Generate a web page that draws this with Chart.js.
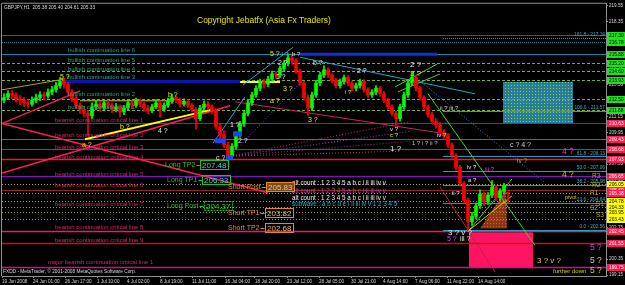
<!DOCTYPE html>
<html><head><meta charset="utf-8">
<script src="https://cdn.jsdelivr.net/npm/chart.js@4.4.1/dist/chart.umd.min.js"></script>
<style>html,body{margin:0;padding:0;background:#000;}canvas{display:block;}</style>
</head><body>
<canvas id="c" width="625" height="285"></canvas>
<script>
// ---------------- DATA ----------------
const symbolInfo = 'GBPJPY,H1  205.38 205.40 204.61 205.33';
const titleText = 'Copyright Jebatfx (Asia Fx Traders)';
const footerText = 'FXDD - MetaTrader, \u00a9 2001-2008 MetaQuotes Software Corp.';

const dateLabels = ['19 Jun 2008','24 Jun 01:00','26 Jun 17:00','1 Jul 10:00','4 Jul 02:00','8 Jul 19:00','11 Jul 11:00','16 Jul 04:00','18 Jul 20:00','23 Jul 12:00','28 Jul 05:00','30 Jul 21:00','4 Aug 14:00','7 Aug 06:00','11 Aug 22:00','14 Aug 14:00'];
const dateTickIdx = [-0.5,7.25,15.25,23.25,30.75,39,47,55.25,62.75,70.75,78.75,86.75,94.75,102.75,110.75,118.5];
const yTickValues = [219.55,218.35,217.15,215.95,214.75,213.55,212.35,211.15,209.95,208.75,207.55,206.35,205.15,203.95,202.75,201.55,200.35,199.15];

const opens = [212.40,212.60,212.90,212.80,212.50,212.40,212.20,212.10,212.40,212.60,212.80,212.70,213.00,213.20,213.50,213.80,213.60,213.00,212.50,212.00,211.70,211.40,211.20,211.90,212.10,211.80,212.20,212.00,211.70,211.90,211.50,211.80,212.20,212.00,212.30,212.10,211.80,211.60,211.90,212.20,211.70,212.00,212.30,212.60,212.40,212.10,212.30,212.00,211.70,211.00,211.80,212.10,211.90,211.60,210.40,209.80,209.00,208.20,208.90,209.80,210.60,211.40,212.20,212.80,213.30,213.80,213.60,214.00,214.40,214.30,214.80,215.20,215.60,215.40,214.60,213.70,212.60,211.80,212.80,213.70,214.30,214.70,214.30,213.90,213.50,213.80,214.10,213.70,213.30,213.50,213.80,213.20,212.80,213.00,213.30,212.90,212.40,211.90,211.40,211.00,211.90,212.80,213.70,214.10,213.30,212.60,211.90,211.30,210.80,210.50,210.00,209.70,209.00,208.20,207.30,206.10,204.80,203.20,203.60,204.40,205.30,204.70,205.20,205.80,205.00,205.50,205.38];
const highs = [212.90,213.10,213.15,212.95,212.75,212.60,212.45,212.65,212.85,213.05,213.00,213.25,213.45,213.75,214.10,214.05,213.75,213.20,212.70,212.20,211.95,211.60,212.20,212.40,212.30,212.45,212.40,212.20,212.15,212.05,212.00,212.45,212.35,212.55,212.50,212.25,212.00,212.10,212.45,212.35,212.20,212.55,212.85,212.75,212.55,212.50,212.45,212.15,211.85,212.00,212.35,212.30,212.05,211.75,210.60,210.10,209.20,209.10,210.00,210.80,211.60,212.40,213.00,213.50,214.00,214.00,214.20,214.60,214.55,215.00,215.40,215.90,215.80,215.55,214.75,213.85,212.80,213.00,213.90,214.50,215.00,214.85,214.45,214.05,214.00,214.30,214.25,213.85,213.70,214.00,213.95,213.35,213.20,213.50,213.45,213.05,212.55,212.05,211.55,212.10,213.00,213.90,214.50,214.25,213.45,212.75,212.05,211.50,211.00,210.70,210.20,209.85,209.15,208.35,207.45,206.25,205.00,203.90,204.60,205.60,205.45,205.40,206.30,205.95,205.70,206.10,205.40];
const lows = [212.20,212.45,212.50,212.25,212.05,211.90,211.80,211.95,212.20,212.35,212.40,212.55,212.80,213.00,213.30,213.30,212.80,212.30,211.80,211.40,211.10,209.70,211.00,211.70,211.55,211.60,211.75,211.45,211.50,211.10,211.30,211.65,211.75,211.85,211.90,211.55,211.35,211.45,211.75,211.10,211.55,211.85,212.15,212.20,211.90,211.95,211.80,211.50,210.20,210.85,211.65,211.70,211.35,210.20,209.30,208.80,207.80,208.00,208.70,209.60,210.40,211.20,212.00,212.60,213.10,213.30,213.40,213.80,214.00,214.10,214.60,215.00,215.10,214.40,213.50,212.40,211.20,211.60,212.60,213.50,214.10,214.10,213.70,213.30,213.30,213.60,213.50,213.10,213.10,213.30,213.00,212.60,212.60,212.80,212.70,212.20,211.70,211.20,210.50,210.80,211.70,212.60,213.50,213.10,212.40,211.70,211.10,210.60,210.30,209.80,209.50,208.80,208.00,207.10,205.90,204.60,202.50,202.90,203.40,204.20,204.40,204.50,205.00,204.80,204.80,205.30,204.61];
const closes = [212.60,212.90,212.80,212.50,212.40,212.20,212.10,212.40,212.60,212.80,212.70,213.00,213.20,213.50,213.80,213.60,213.00,212.50,212.00,211.70,211.40,211.20,211.90,212.10,211.80,212.20,212.00,211.70,211.90,211.50,211.80,212.20,212.00,212.30,212.10,211.80,211.60,211.90,212.20,211.70,212.00,212.30,212.60,212.40,212.10,212.30,212.00,211.70,211.00,211.80,212.10,211.90,211.60,210.40,209.80,209.00,208.20,208.90,209.80,210.60,211.40,212.20,212.80,213.30,213.80,213.60,214.00,214.40,214.30,214.80,215.20,215.60,215.40,214.60,213.70,212.60,211.80,212.80,213.70,214.30,214.70,214.30,213.90,213.50,213.80,214.10,213.70,213.30,213.50,213.80,213.20,212.80,213.00,213.30,212.90,212.40,211.90,211.40,211.00,211.90,212.80,213.70,214.10,213.30,212.60,211.90,211.30,210.80,210.50,210.00,209.70,209.00,208.20,207.30,206.10,204.80,203.20,203.60,204.40,205.30,204.70,205.20,205.80,205.00,205.50,205.90,205.33];

// horizontal levels (prices) and their names
const levelPrices = [217.30,216.78,215.88,215.20,214.60,213.93,212.50,211.68,210.63,209.43,208.68,207.93,206.65,206.05,205.60,205.38,204.78,204.33,203.95,203.43,202.45,201.55,199.75];
const levelNames = ['bullish continuation line 6','bullish continuation line 5','bullish continuation line 4','bullish continuation line 3','bullish continuation line 2','bullish continuation line 1','bearish continuation critical line 1','bearish continuation critical line 2','bearish continuation critical line 3','bearish continuation critical line 4','bearish continuation critical line 5','bearish continuation critical line 6','bearish continuation critical line 7','bearish continuation critical line 8','bearish continuation critical line 9','major bearish continuation critical line 1'];
const levelNamePrices = [216.175,215.425,214.75,214.15,212.80,211.825,210.85,209.725,208.825,208.075,206.80,205.975,204.475,202.75,201.775,200.125];
const levelNameIdx = [16,16,16,16,16,16,12.75,12.75,12.75,12.75,12.75,12.75,12.75,12.75,12.75,11];

// fibonacci levels
const fibTexts = ['161.8 - 217.14','100.0 - 211.57','61.8 - 208.13','50.0 - 207.06','38.2 - 205.98','23.6 - 204.64','0.0 - 202.56'];
const fibPrices = [217.14,211.57,208.13,207.06,205.98,204.64,202.56];
const fibStartIdx = 109.75;

// trade levels
const tradeNames = ['Long TP2','Long TP1','Long Post','Short Post','Short TP1','Short TP2'];
const tradeValues = [207.48,206.33,204.37,205.83,203.82,202.68];
const tradeIdx = [40.25,40.75,40.75,56,56,56];

// trend lines [startIdx, startPrice, endIdx, endPrice]
const trendLines = [
  [-0.5,210.63,66,205.38],[-0.5,206.88,56.5,211.98],[-0.5,210.63,19,213.10],
  [20.25,209.43,52,211.68],[-0.5,213.18,15.25,214.00],[19,212.35,41.5,212.35],
  [59,213.78,69,213.78],[52.25,209.13,60.25,212.65],[59.75,213.55,72.25,216.40],
  [74,215.65,117.75,212.88],[102.75,214.15,135.25,206.13],[106,212.88,132.75,201.40],
  [97.75,213.40,108.25,215.13],[98.5,213.03,109,214.38],[57.75,212.28,111.5,209.80],
  [109,205.83,122.75,199.38],[116.25,202.53,127,206.43],[116.25,202.53,127,205.15],
  [56.5,208.15,101.5,210.78],[56.5,208.15,101.5,210.03],[56.5,208.15,79,215.28],
  [56.5,208.15,99,208.53],[56.5,208.15,101.5,209.28]
];
// thick segments [startIdx, endIdx, price]
const thickSegs = [[74,108.25,215.88],[15.25,59,213.81]];
// zones [idx1, price1, idx2, price2]
const sellZone = [116.25,202.38,132.25,199.75];
const fibZone = [124.75,213.78,142.25,210.63];
const triZone = [[119,202.68],[125.5,205.60],[125.75,202.68]];
const smallBoxes = [[52.75,209.50,55.25,209.13],[57.25,210.03,59.5,209.65],[55.5,208.23,57.25,207.93]];

// wave labels [text, idx, price]
const waveLabels = [
  ['5 ?',14,214.15],['b ?',41,212.80],['a ?',19.5,208.975],['b ?',29,210.325],['4 ?',38.5,210.025],
  ['c ?',53,207.975],['1 ?',56.5,210.475],['2 ?',58.5,209.275],['5 ?',66.5,215.875],['4 ?',69,215.875],
  ['b ?',72,215.875],['2 ?',68.5,215.20],['b ?',77.25,215.20],['1 ?',68,214.15],['3 ?',69.75,213.25],
  ['a ?',66.5,212.35],['2 ?',88.25,214.60],['2 ?',101.5,215.05],['3 ?',101.5,214.375],['i ?',85.25,213.025],
  ['3 ?',76,210.925],['v ?',96.5,210.175],['c ?',96.5,209.725],['1 ?',96.5,208.675],['1 ? i ? ii ?',102,209.125],
  ['iv ?',108.25,209.725],['ii ? iii ?',109,211.75],['c ? 4 ?',126.5,208.975],['4 ?',139.5,208.525],
  ['iv ?',128.25,207.775],['4 ?',139.5,206.725],['R3',147,206.65],['R2',147,205.975],['R1',146.5,205.375],
  ['pivot',140.25,205.00],['S1',148,204.55],['S2',146.5,204.175],['S3',148,203.65],['ii ?',112,205.30],
  ['iv ?',115.75,207.325],['iii ?',120.25,207.175],['a ?',116,206.35],['3 ? v ?',111,202.375],
  ['5 ?',110.75,201.85],['iii ?',114,201.85],['5 ?',146.5,201.25],['3 ? v ?',133.25,200.20],
  ['5 ?',146.5,200.20],['further down',137.25,199.45],['5 ?',146.5,199.45]
];
const countRows = ['alt count : 1 2 3 4 5 a b c i ii iii iv v','alt count : 1 2 3 4 5 a b c i ii iii iv v','alt count : 1 2 3 4 5 a b c i ii iii iv v','subwave : a b c d e i ii iii iv v 1 2 3 4 5'];
const countRowPrices = [206.125,205.525,205.00,204.475];
const countRowIdx = 72;
const titlePos = [48.25,218.425];

// ---------------- STYLES ----------------
const FONT = '"Liberation Sans", Arial, sans-serif';
const W='#e6e6e6', YL='#e8e800', MG='#e040e0', OL='#b0a030';
const levelLook = [
  {c:'#1a6a7a',d:[],w:1,b:'#20e020'},{c:'#2a8a9a',d:[1,1],w:1,b:'#20e020'},{c:'#1a8aa8',d:[],w:1,b:'#20e020'},
  {c:'#78b028',d:[3,2],w:1,b:'#20e020'},{c:'#78b028',d:[3,2],w:1,b:'#20e020'},{c:'#78b028',d:[3,2],w:1,b:'#20e020'},
  {c:'#78b028',d:[3,2],w:1,b:'#20e020'},{c:'#78b028',d:[3,2],w:1,b:'#20e020'},
  {c:'#8a2090',d:[],w:1,b:'#ff1a50'},{c:'#b04a20',d:[],w:1,b:'#ff1a50'},{c:'#a83c10',d:[],w:1,b:'#ff1a50'},
  {c:'#ff1030',d:[],w:1.3,b:'#ff1a50'},{c:'#8010c0',d:[],w:1,b:'#ff1a50'},{c:'#a0a030',d:[1,2],w:1,b:'#ffff00'},
  {c:'#902818',d:[],w:1,b:'#ff1a50'},{c:'#a0a030',d:[1,2],w:1,b:'#ff1a50'},{c:'#a0a030',d:[1,2],w:1,b:'#ffff00'},
  {c:'#a0a030',d:[1,2],w:1,b:'#ffff00'},{c:'#a0a030',d:[1,2],w:1,b:'#ffff00'},{c:'#a0a030',d:[1,2],w:1,b:'#ffff00'},
  {c:'#ff1070',d:[],w:1.5,b:'#ff1a50'},{c:'#d01010',d:[],w:1.5,b:'#ff1a50'},{c:'#d0108a',d:[],w:1.5,b:'#ff1a50'}
];
const trendLook = [
  {c:'#ff2050',w:1.5},{c:'#ff2050',w:1.5},{c:'#ff2050',w:1.2},{c:'#ffff00',w:2},{c:'#b0a020',w:1},{c:'#c8c820',w:1},
  {c:'#ffff00',w:2},{c:'#20a8c8',w:1},{c:'#20a8c8',w:1},{c:'#20a8c8',w:1},{c:'#3a80d0',w:1,d:[1,2]},{c:'#40d040',w:1},
  {c:'#40d040',w:1},{c:'#60c030',w:1},{c:'#c02860',w:1},{c:'#c02040',w:1},{c:'#40d040',w:1},{c:'#c8c820',w:1},
  {c:'#d03060',w:1,d:[1,2]},{c:'#a040b0',w:1,d:[1,2]},{c:'#9040c0',w:1,d:[1,2]},{c:'#a05020',w:1,d:[1,2]},{c:'#903080',w:1,d:[1,2]}
];
const waveLook = [
  [YL,7],[YL,7],[YL,7],[YL,7],[W,7],[W,7],[W,7],[W,7],[YL,7],['#30b0c0',6],[W,6],[W,7],[W,7],[W,7],[YL,7],
  [YL,7],[W,7],[W,8],[YL,8],[YL,6],[YL,7],[W,6],[YL,6],[W,8],['#d8b0d8',6],[W,6],['#e0c0e0',6],['#d0d0d0',7],
  [MG,8.5],['#c09040',6.5],['#e0c000',8.5],[OL,6.5],[OL,6.5],[OL,6.5],['#d0c020',5.5],[OL,6.5],[OL,6.5],[OL,6.5],
  [W,6],[W,6],[MG,6],[W,6],[W,8],[MG,7],[W,7],['#d040d0',8.5],['#d0d020',8],['#c8c8c8',8.5],['#d0d020',6],['#d0d020',8.5]
];
const countLook = ['#f0f0f0','#c040c0','#f0f0f0','#20b0d0'];
const tradeLook = [
  {n:'#20c020',b:'#20c020',t:'#30d8d8'},{n:'#20c020',b:'#20c020',t:'#30d8d8'},{n:'#20c020',b:'#20c020',t:'#20d020',d:[2,1]},
  {n:'#e08a20',b:'#e08a20',t:'#f0c080',f:'#7a4a1a'},{n:'#e08a20',b:'#e08a20',t:'#f0b060'},{n:'#e08a20',b:'#e08a20',t:'#f0b060'}
];

function dotPattern(ctx, bg, dot){
  const p = document.createElement('canvas'); p.width = 3; p.height = 3;
  const g = p.getContext('2d'); g.fillStyle = bg; g.fillRect(0,0,3,3);
  g.fillStyle = dot; g.fillRect(1,1,1,1);
  return ctx.createPattern(p,'repeat');
}

const overlay = {
  id:'overlay',
  beforeDatasetsDraw(chart){
    const {ctx, chartArea:a, scales:{x, y}} = chart;
    const X = v => x.getPixelForValue(v), Y = v => y.getPixelForValue(v);
    ctx.save();
    ctx.beginPath(); ctx.rect(a.left, a.top, a.right-a.left, a.bottom-a.top); ctx.clip();
    ctx.fillStyle = dotPattern(ctx,'#2a7d96','#7ad060');
    ctx.fillRect(X(fibZone[0]), Y(fibZone[1]), X(fibZone[2])-X(fibZone[0]), Y(fibZone[3])-Y(fibZone[1]));
    ctx.fillStyle = '#ff1464';
    ctx.fillRect(X(sellZone[0]), Y(sellZone[1]), X(sellZone[2])-X(sellZone[0]), Y(sellZone[3])-Y(sellZone[1]));
    ctx.fillStyle = dotPattern(ctx,'#8c3414','#c86030');
    ctx.beginPath(); triZone.forEach((p,i)=>{ i?ctx.lineTo(X(p[0]),Y(p[1])):ctx.moveTo(X(p[0]),Y(p[1])); }); ctx.closePath(); ctx.fill();
    levelPrices.forEach((p,i)=>{
      const L = levelLook[i], yy = Math.round(Y(p))+0.5;
      ctx.strokeStyle = L.c; ctx.lineWidth = L.w; ctx.setLineDash(L.d);
      ctx.beginPath(); ctx.moveTo(a.left, yy); ctx.lineTo(a.right, yy); ctx.stroke();
    });
    ctx.strokeStyle = '#2a9ab8'; ctx.lineWidth = 1;
    fibPrices.forEach((p,i)=>{
      ctx.setLineDash(i===0?[1,1]:[]);
      const yy = Math.round(Y(p))+0.5;
      ctx.beginPath(); ctx.moveTo(X(fibStartIdx), yy); ctx.lineTo(a.right, yy); ctx.stroke();
    });
    ctx.setLineDash([]);
    thickSegs.forEach((s,i)=>{
      ctx.strokeStyle = i===0?'#1030e0':'#0a14b0'; ctx.lineWidth = 3;
      ctx.beginPath(); ctx.moveTo(X(s[0]),Y(s[2])); ctx.lineTo(X(s[1]),Y(s[2])); ctx.stroke();
    });
    trendLines.forEach((t,i)=>{
      const L = trendLook[i];
      ctx.strokeStyle = L.c; ctx.lineWidth = L.w; ctx.setLineDash(L.d||[]);
      ctx.beginPath(); ctx.moveTo(X(t[0]),Y(t[1])); ctx.lineTo(X(t[2]),Y(t[3])); ctx.stroke();
    });
    ctx.setLineDash([]);
    ctx.restore();
  },
  afterDraw(chart){
    const {ctx, chartArea:a, scales:{x, y}} = chart;
    const X = v => x.getPixelForValue(v), Y = v => y.getPixelForValue(v);
    ctx.save();
    ctx.fillStyle = '#2040ff';
    smallBoxes.forEach(b=>ctx.fillRect(X(b[0]),Y(b[1]),X(b[2])-X(b[0]),Y(b[3])-Y(b[1])));
    ctx.textAlign = 'left'; ctx.textBaseline = 'middle';
    levelNames.forEach((n,i)=>{
      ctx.font = '6px '+FONT;
      ctx.fillStyle = i<6 ? (i===0?'#2a98a8':'#34a070') : '#d0286e';
      ctx.fillText(n, X(levelNameIdx[i]), Y(levelNamePrices[i]));
    });
    ctx.font = '4.8px '+FONT; ctx.fillStyle = '#38b0d0'; ctx.textAlign = 'right'; ctx.textBaseline = 'bottom';
    fibTexts.forEach((t,i)=>ctx.fillText(t, a.right-1, Y(fibPrices[i])-0.5));
    ctx.textAlign = 'left'; ctx.textBaseline = 'middle';
    waveLabels.forEach((w,i)=>{
      ctx.font = waveLook[i][1]+'px '+FONT; ctx.fillStyle = waveLook[i][0];
      ctx.fillText(w[0], X(w[1]), Y(w[2]));
    });
    ctx.font = '6.3px '+FONT;
    countRows.forEach((r,i)=>{ ctx.fillStyle = countLook[i]; ctx.fillText(r, X(countRowIdx), Y(countRowPrices[i])); });
    tradeNames.forEach((n,i)=>{
      const L = tradeLook[i], x0 = X(tradeIdx[i]), yy = Math.round(Y(tradeValues[i]));
      ctx.font = '7px '+FONT; ctx.fillStyle = L.n; ctx.fillText(n, x0, yy);
      let bx = x0 + ctx.measureText(n).width + 1;
      ctx.strokeStyle = L.b; ctx.lineWidth = 1;
      ctx.beginPath(); ctx.moveTo(bx, yy+0.5); ctx.lineTo(bx+4, yy+0.5); ctx.stroke();
      bx = Math.round(bx+4);
      ctx.font = '8px '+FONT;
      const val = tradeValues[i].toFixed(2), vw = Math.ceil(ctx.measureText(val).width);
      if (L.f) { ctx.fillStyle = L.f; ctx.fillRect(bx, yy-5, vw+4, 10); }
      ctx.setLineDash(L.d||[]); ctx.strokeRect(bx+0.5, yy-4.5, vw+3, 9); ctx.setLineDash([]);
      ctx.fillStyle = L.t; ctx.fillText(val, bx+2, yy+0.5);
    });
    ctx.font = '8.5px '+FONT; ctx.fillStyle = '#e8e800';
    ctx.fillText(titleText, X(titlePos[0]), Y(titlePos[1]));
    ctx.font = '4.8px '+FONT; ctx.fillStyle = '#d8d8d8';
    ctx.fillText(symbolInfo, a.left+2, a.top+4);
    ctx.fillText(footerText, a.left+1, a.bottom-4);
    ctx.strokeStyle = '#909090'; ctx.lineWidth = 1;
    ctx.beginPath(); ctx.moveTo(a.left-0.5, a.bottom); ctx.lineTo(a.left-0.5, a.top-0.5); ctx.lineTo(a.right, a.top-0.5); ctx.stroke();
    ctx.font = '4.8px '+FONT; ctx.textBaseline = 'middle';
    levelPrices.forEach((p,i)=>{
      const c = levelLook[i].b, yy = Math.round(Y(p));
      ctx.fillStyle = c; ctx.fillRect(a.right+1, yy-3, 18, 7);
      ctx.fillStyle = c==='#ff1a50' ? '#ffffff' : '#000000';
      ctx.fillText(p.toFixed(2), a.right+3, yy+0.5);
    });
    ctx.restore();
  }
};

const upC = '#00ff00', dnC = '#ff0000';
const colorFor = c => closes[c.dataIndex] >= opens[c.dataIndex] ? upC : dnC;
const idx = closes.map((_,i)=>i);

new Chart(document.getElementById('c'), {
  type:'bar',
  data:{ datasets:[
    { label:'wick', data: idx.map(i=>({x:i, y:[lows[i], highs[i]]})), backgroundColor: colorFor, barThickness:1, grouped:false, borderWidth:0 },
    { label:'body', data: idx.map(i=>({x:i, y:[opens[i], closes[i]]})), backgroundColor: colorFor, barThickness:3, grouped:false, borderWidth:0, minBarLength:1 }
  ]},
  options:{
    responsive:false, animation:false, devicePixelRatio:1,
    layout:{ padding:{left:2, top:1, right:0, bottom:0} },
    plugins:{ legend:{display:false}, tooltip:{enabled:false} },
    scales:{
      x:{ type:'linear', min:-0.5, max:150.5, offset:false,
          grid:{ display:true, drawOnChartArea:false, drawTicks:true, tickLength:2, color:'#909090', offset:false },
          border:{ display:true, color:'#909090' },
          afterBuildTicks: s => { s.ticks = dateTickIdx.map(v=>({value:v})); },
          afterFit: s => { s.height = 9; },
          ticks:{ autoSkip:false, maxRotation:0, align:'start', padding:1, color:'#d8d8d8',
                  font:{ size:4.6, family:FONT }, callback:(v,i)=>dateLabels[i] } },
      y:{ type:'linear', position:'right', min:199.075, max:219.70, beginAtZero:false,
          grid:{ display:true, drawOnChartArea:false, drawTicks:true, tickLength:2, color:'#909090' },
          border:{ display:true, color:'#909090' },
          afterBuildTicks: s => { s.ticks = yTickValues.map(v=>({value:v})); },
          afterFit: s => { s.width = 19; },
          ticks:{ autoSkip:false, padding:1, color:'#d8d8d8', font:{ size:4.6, family:FONT }, callback:v=>v.toFixed(2) } }
    }
  },
  plugins:[overlay]
});
</script>
</body></html>
